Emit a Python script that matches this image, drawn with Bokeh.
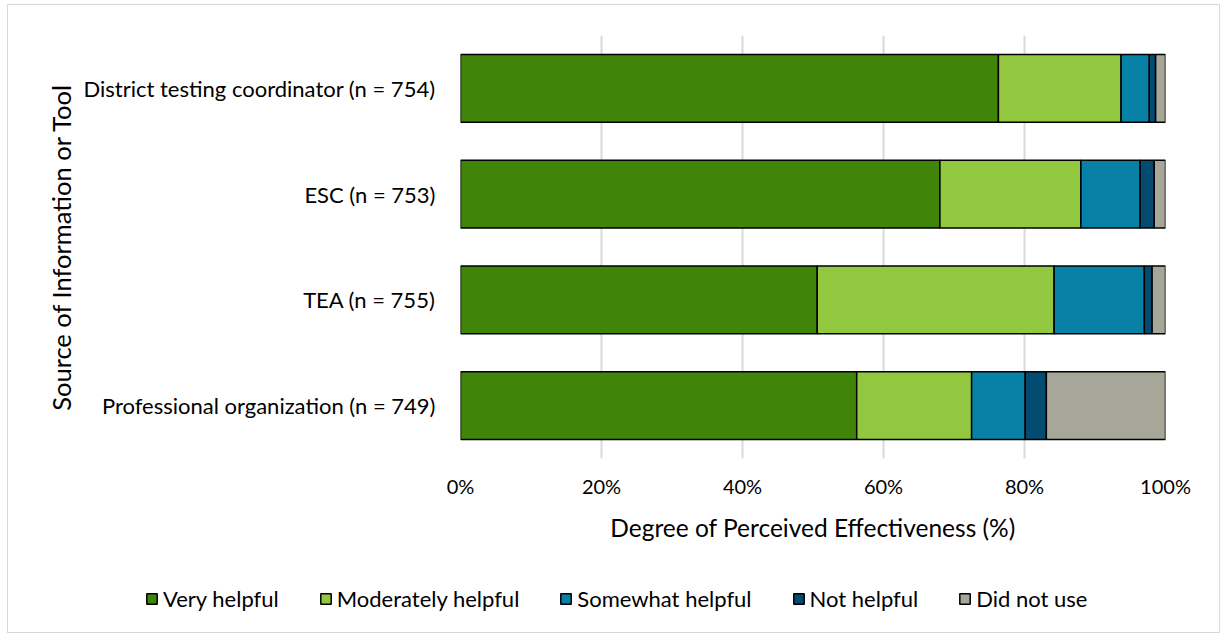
from bokeh.plotting import figure
from bokeh.layouts import column
from bokeh.models import FactorRange, Legend, LegendItem, FixedTicker, CustomJSTickFormatter
from bokeh.embed import file_html
from bokeh.resources import INLINE

categories = [
    "District testing coordinator (n = 754)",
    "ESC (n = 753)",
    "TEA (n = 755)",
    "Professional organization (n = 749)",
]
series = ["Very helpful", "Moderately helpful", "Somewhat helpful", "Not helpful", "Did not use"]
very_helpful = [76.3, 68.0, 50.6, 56.2]
moderately_helpful = [17.4, 20.0, 33.6, 16.3]
somewhat_helpful = [4.0, 8.4, 12.8, 7.6]
not_helpful = [0.9, 2.0, 1.1, 3.0]
did_not_use = [1.4, 1.6, 1.9, 16.9]
x_ticks = [0, 20, 40, 60, 80, 100]
colors = ["#40850A", "#92C840", "#0881A6", "#034B71", "#A6A699"]

FONT = "Lato"
BORDER = "1px solid #D9D9D9"
W = 1213

data = {
    "cat": categories,
    "Very helpful": very_helpful,
    "Moderately helpful": moderately_helpful,
    "Somewhat helpful": somewhat_helpful,
    "Not helpful": not_helpful,
    "Did not use": did_not_use,
}

p = figure(
    width=W, height=560,
    y_range=FactorRange(factors=list(reversed(categories))),
    x_range=(0, 100),
    output_backend="svg", toolbar_location=None,
    min_border_left=452, min_border_right=56, min_border_top=30, min_border_bottom=107,
    styles={"border-left": BORDER, "border-right": BORDER, "border-top": BORDER,
            "box-sizing": "border-box"},
)
p.frame_align = False

renderers = p.hbar_stack(series, y="cat", height=0.64, color=colors, source=data,
                         line_color="black", line_width=1.5)

p.outline_line_color = None
p.ygrid.grid_line_color = None
p.xgrid.grid_line_color = "#D9D9D9"
p.xgrid.grid_line_width = 2
p.xaxis.ticker = FixedTicker(ticks=x_ticks)
p.xaxis.formatter = CustomJSTickFormatter(code="return tick + '%';")
for ax in (p.xaxis, p.yaxis):
    ax.axis_line_color = None
    ax.major_tick_line_color = None
    ax.minor_tick_line_color = None
    ax.major_label_text_font = FONT
    ax.major_label_text_color = "#000000"
    ax.axis_label_text_font = FONT
    ax.axis_label_text_font_style = "normal"
    ax.axis_label_text_color = "#000000"

p.xaxis.major_label_text_font_size = "20px"
p.yaxis.major_label_text_font_size = "22px"
p.xaxis.axis_label_text_font_size = "24.5px"
p.yaxis.axis_label_text_font_size = "25.5px"
p.xaxis.axis_label = "Degree of Perceived Effectiveness (%)"
p.xaxis.major_label_standoff = 9
p.xaxis.axis_label_standoff = 12
p.yaxis.axis_label = "Source of Information or Tool"
p.yaxis.major_label_standoff = 19
p.yaxis.axis_label_standoff = 5

# legend strip below the chart (its own full-width frame)
q = figure(
    width=W, height=69, x_range=(0, 1), y_range=(0, 1),
    x_axis_type=None, y_axis_type=None,
    output_backend="svg", toolbar_location=None,
    min_border_left=0, min_border_right=0, min_border_top=0, min_border_bottom=0,
    styles={"border-left": BORDER, "border-right": BORDER, "border-bottom": BORDER,
            "box-sizing": "border-box"},
)
q.frame_align = False
q.outline_line_color = None
q.grid.visible = False
# legend keys only: one off-screen swatch per series
swatches = [q.hbar(y=[-5], left=[0], right=[0.1], height=0.5, fill_color=c,
                   line_color="black", line_width=1.5) for c in colors]
items = [LegendItem(label=s, renderers=[r]) for s, r in zip(series, swatches)]
legend = Legend(items=items, orientation="horizontal", location=(137, 21),
                label_text_font=FONT, label_text_font_size="22px", label_text_color="#000000",
                glyph_width=13, glyph_height=13, label_standoff=5, spacing=40,
                padding=0, margin=0, border_line_color=None, background_fill_alpha=0)
q.add_layout(legend, "center")

layout = column(p, q, spacing=0, margin=(4, 0, 0, 7))
open("out.html", "w").write(file_html(layout, INLINE))
